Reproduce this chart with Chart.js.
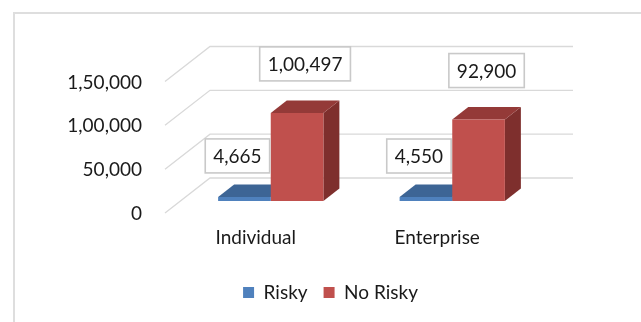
<!DOCTYPE html>
<html>
<head>
<meta charset="utf-8">
<script src="https://cdn.jsdelivr.net/npm/chart.js@4"></script>
<style>
  html, body { margin: 0; padding: 0; background: #fff; }
  #frame { position: absolute; left: 13px; top: 12px; width: 626px; height: 400px; border: 2px solid #dedede; }
  #chart { position: absolute; left: 0; top: 0; }
</style>
</head>
<body>
<div id="frame"></div>
<canvas id="chart" width="641" height="322"></canvas>
<script>
const categories = ["Individual", "Enterprise"];
const seriesNames = ["Risky", "No Risky"];
const riskyValues = [4665, 4550];
const noRiskyValues = [100497, 92900];
const tickValues = [0, 50000, 100000, 150000];

const frontColors = ["#4f81bd", "#c0504d"];
const topColors = ["#3d6595", "#943a38"];
const sideColors = ["#335580", "#7e2f2d"];

// offsets of the 3D planes relative to the plane the bar fronts sit in
const FRONT = { x: -15, y: 12 };
const BACK = { x: 30, y: -23 };
const DEPTH = { x: 16, y: -12.5 };

// 1,00,497 style grouping
function inr(n) {
  const s = String(Math.round(n));
  if (s.length <= 3) return s;
  const last3 = s.slice(-3);
  const rest = s.slice(0, -3).replace(/\B(?=(\d{2})+(?!\d))/g, ',');
  return rest + ',' + last3;
}

function poly(ctx, pts, fill) {
  ctx.beginPath();
  ctx.moveTo(pts[0][0], pts[0][1]);
  for (let i = 1; i < pts.length; i++) ctx.lineTo(pts[i][0], pts[i][1]);
  ctx.closePath();
  ctx.fillStyle = fill;
  ctx.fill();
}

const wallsAndDepth = {
  id: 'wallsAndDepth',
  beforeDatasetsDraw(chart) {
    const { ctx, chartArea, scales } = chart;
    const y = scales.y;
    ctx.save();
    ctx.strokeStyle = '#d9d9d9';
    ctx.lineWidth = 1.3;
    tickValues.forEach(v => {
      const py = y.getPixelForValue(v);
      ctx.beginPath();
      ctx.moveTo(chartArea.left + FRONT.x, py + FRONT.y);
      ctx.lineTo(chartArea.left + BACK.x, py + BACK.y);
      ctx.lineTo(chartArea.right + BACK.x, py + BACK.y);
      ctx.stroke();
    });
    // top and side faces go behind the front faces drawn by the bar controller
    chart.data.datasets.forEach((ds, i) => {
      chart.getDatasetMeta(i).data.forEach(bar => {
        const x0 = bar.x - bar.width / 2, x1 = bar.x + bar.width / 2;
        const t = bar.y, b = bar.base;
        poly(ctx, [[x1, t], [x1 + DEPTH.x, t + DEPTH.y], [x1 + DEPTH.x, b + DEPTH.y], [x1, b]], sideColors[i]);
        poly(ctx, [[x0, t], [x1, t], [x1 + DEPTH.x, t + DEPTH.y], [x0 + DEPTH.x, t + DEPTH.y]], topColors[i]);
      });
    });
    ctx.restore();
  },
  afterDatasetsDraw(chart) {
    const { ctx } = chart;
    const labelShift = [{ x: -7, y: -41 }, { x: 8, y: -49 }];
    ctx.save();
    ctx.font = '19px Lato';
    ctx.textAlign = 'center';
    ctx.textBaseline = 'middle';
    chart.data.datasets.forEach((ds, i) => {
      chart.getDatasetMeta(i).data.forEach((bar, j) => {
        const txt = inr(ds.data[j]);
        const cx = bar.x + labelShift[i].x;
        const cy = bar.y + labelShift[i].y;
        const w = ctx.measureText(txt).width + 16, h = 34;
        ctx.fillStyle = '#fff';
        ctx.fillRect(cx - w / 2, cy - h / 2, w, h);
        ctx.strokeStyle = '#c9c9c9';
        ctx.lineWidth = 1.6;
        ctx.strokeRect(cx - w / 2, cy - h / 2, w, h);
        ctx.fillStyle = '#1a1a1a';
        ctx.fillText(txt, cx, cy + 1);
      });
    });
    ctx.restore();
  }
};

Chart.defaults.font.family = 'Lato';
Chart.defaults.font.size = 19;
Chart.defaults.color = '#1a1a1a';

new Chart(document.getElementById('chart'), {
  type: 'bar',
  data: {
    labels: categories,
    datasets: [
      { label: seriesNames[0], data: riskyValues, backgroundColor: frontColors[0] },
      { label: seriesNames[1], data: noRiskyValues, backgroundColor: frontColors[1] }
    ]
  },
  options: {
    responsive: false,
    animation: false,
    events: [],
    categoryPercentage: 0.58,
    barPercentage: 1.0,
    layout: { padding: { top: 69.5, right: 0, bottom: 10, left: 20 } },
    scales: {
      x: {
        grid: { display: false },
        border: { display: false },
        ticks: { padding: 17, labelOffset: -15 },
        afterFit: s => { s.height = 66; }
      },
      y: {
        min: 0,
        max: 150000,
        grid: { display: false },
        border: { display: false },
        ticks: { stepSize: 50000, padding: 30, labelOffset: 13, callback: v => inr(v) },
        afterFit: s => { s.width = 160; }
      },
      // empty right-hand axis keeps room for the back wall
      spacer: {
        type: 'linear',
        position: 'right',
        grid: { display: false },
        border: { display: false },
        ticks: { display: false },
        afterFit: s => { s.width = 98; }
      }
    },
    plugins: {
      tooltip: { enabled: false },
      legend: {
        position: 'bottom',
        labels: { boxWidth: 11, boxHeight: 11, padding: 16 }
      }
    }
  },
  plugins: [wallsAndDepth]
});
</script>
</body>
</html>
